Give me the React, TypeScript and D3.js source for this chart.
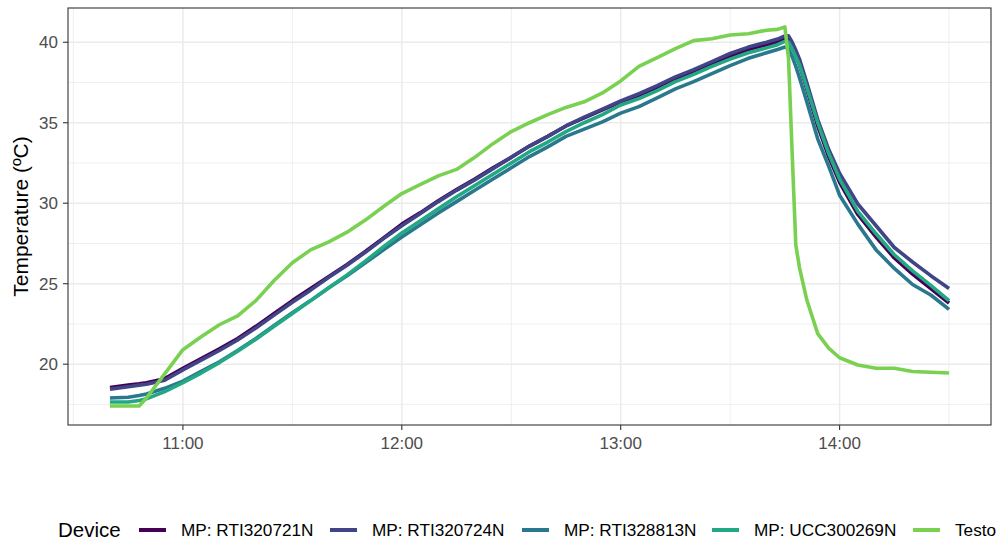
import React from "react";
import * as d3 from "d3";

// Sampling times (HH:MM), shared by every device
const times = [
  "10:40", "10:45", "10:48", "10:50", "10:55", "11:00", "11:05", "11:10", "11:15", "11:20",
  "11:25", "11:30", "11:35", "11:40", "11:45", "11:50", "11:55", "12:00", "12:05", "12:10",
  "12:15", "12:20", "12:25", "12:30", "12:35", "12:40", "12:45", "12:50", "12:55", "13:00",
  "13:05", "13:10", "13:15", "13:20", "13:25", "13:30", "13:35", "13:40", "13:43", "13:45",
  "13:46", "13:47", "13:48", "13:49", "13:51", "13:54", "13:57", "14:00", "14:05", "14:10",
  "14:15", "14:20", "14:25", "14:30",
];

// Temperature readings (ºC) per device
const rti320721n = [
  18.55, 18.7, 18.78, 18.85, 19.1, 19.75, 20.35, 20.95, 21.6, 22.35,
  23.15, 23.95, 24.7, 25.45, 26.2, 27.0, 27.85, 28.7, 29.4, 30.15,
  30.85, 31.5, 32.2, 32.85, 33.55, 34.15, 34.8, 35.3, 35.8, 36.3,
  36.7, 37.2, 37.75, 38.15, 38.65, 39.15, 39.55, 39.85, 40.05, 40.25,
  40.2, 39.8, 39.2, 38.6, 37.1, 34.8, 32.9, 31.3, 29.3, 27.9,
  26.6, 25.6, 24.7, 23.8,
];
const rti320724n = [
  18.45, 18.6, 18.7, 18.75, 19.0, 19.65, 20.25, 20.85, 21.5, 22.25,
  23.05, 23.85, 24.6, 25.4, 26.15, 26.95, 27.8, 28.6, 29.35, 30.1,
  30.8, 31.45, 32.15, 32.85, 33.55, 34.15, 34.8, 35.35, 35.85, 36.35,
  36.8, 37.3, 37.85, 38.3, 38.8, 39.3, 39.7, 40.0, 40.2, 40.4,
  40.4, 40.0, 39.5, 38.95, 37.5, 35.2, 33.35, 31.85, 29.95, 28.6,
  27.25, 26.35, 25.5, 24.7,
];
const rti328813n = [
  17.9, 17.95, 18.05, 18.15, 18.5, 18.95, 19.55, 20.15, 20.85, 21.6,
  22.4, 23.2, 23.95, 24.75, 25.5, 26.3, 27.1, 27.9, 28.65, 29.4,
  30.1, 30.8, 31.5, 32.2, 32.9, 33.5, 34.15, 34.6, 35.05, 35.6,
  36.0, 36.55, 37.1, 37.55, 38.05, 38.55, 39.0, 39.35, 39.55, 39.7,
  39.6, 39.1, 38.5, 37.8, 36.3, 34.0, 32.3, 30.5, 28.7, 27.1,
  25.95, 24.95, 24.3, 23.4,
];
const ucc300269n = [
  17.65, 17.65, 17.75, 17.85, 18.3, 18.85, 19.45, 20.1, 20.8, 21.55,
  22.35, 23.15, 23.95, 24.75, 25.55, 26.4, 27.3, 28.15, 28.9, 29.65,
  30.4, 31.1, 31.8, 32.5, 33.2, 33.8, 34.45, 35.0, 35.5, 36.1,
  36.5, 37.0, 37.55, 38.0, 38.5, 38.95, 39.35, 39.65, 39.85, 40.05,
  40.0, 39.6, 39.1, 38.6, 37.2, 35.0, 33.1, 31.5, 29.5, 28.1,
  26.8, 25.8, 24.9, 23.95,
];
const testo = [
  17.4, 17.4, 17.4, 17.9, 19.4, 20.9, 21.7, 22.45, 23.0, 23.95,
  25.2, 26.3, 27.1, 27.6, 28.2, 28.95, 29.8, 30.6, 31.15, 31.7,
  32.1, 32.85, 33.7, 34.45, 35.0, 35.5, 35.95, 36.3, 36.85, 37.6,
  38.5, 39.05, 39.6, 40.1, 40.22, 40.45, 40.53, 40.75, 40.8, 40.95,
  39.0, 33.1, 27.4, 26.0, 24.0, 21.9, 21.0, 20.4, 19.95, 19.75,
  19.75, 19.55, 19.5, 19.45,
];

const devices = ["MP: RTI320721N", "MP: RTI320724N", "MP: RTI328813N", "MP: UCC300269N", "Testo"];
const deviceColors = ["#440154", "#414487", "#2A788E", "#22A884", "#7AD151"];

const yMajorTicks = [20, 25, 30, 35, 40];
const yMinorTicks = [17.5, 22.5, 27.5, 32.5, 37.5];
const xMajorTicks = ["11:00", "12:00", "13:00", "14:00"];
const xMinorTicks = ["10:30", "11:30", "12:30", "13:30", "14:30"];

const FONT = "'Liberation Sans', Arial, Helvetica, sans-serif";

export default function App() {
  const W = 1000;
  const H = 542;
  const panel = { left: 68, right: 991, top: 8, bottom: 425 };

  const parse = d3.timeParse("%H:%M");
  const dates = times.map((t) => parse(t) as Date);
  const series = [rti320721n, rti320724n, rti328813n, ucc300269n, testo];

  // ggplot-style 5% expansion on both axes
  const [tMin, tMax] = d3.extent(dates) as [Date, Date];
  const tPad = (tMax.getTime() - tMin.getTime()) * 0.05;
  const x = d3
    .scaleTime()
    .domain([new Date(tMin.getTime() - tPad), new Date(tMax.getTime() + tPad)])
    .range([panel.left, panel.right]);

  const all = series.flat();
  const [vMin, vMax] = d3.extent(all) as [number, number];
  const vPad = (vMax - vMin) * 0.05;
  const y = d3.scaleLinear().domain([vMin - vPad, vMax + vPad]).range([panel.bottom, panel.top]);

  const line = d3
    .line<number>()
    .x((_, i) => x(dates[i]))
    .y((d) => y(d));

  const legendItems = [
    { keyX: 139, labelX: 181 },
    { keyX: 330, labelX: 372 },
    { keyX: 522, labelX: 564 },
    { keyX: 712, labelX: 754 },
    { keyX: 913, labelX: 955 },
  ];
  const legendKeyY = 530;
  const legendLabelBaseline = 536;
  const legendTitleBaseline = 537;

  return (
    <svg
      width={W}
      height={H}
      viewBox={`0 0 ${W} ${H}`}
      style={{ position: "absolute", left: 0, top: 0, background: "#fff" }}
      fontFamily={FONT}
    >
      <rect x={0} y={0} width={W} height={H} fill="#fff" />

      {/* minor grid */}
      {yMinorTicks.map((v) => (
        <line key={`ym${v}`} x1={panel.left} x2={panel.right} y1={y(v)} y2={y(v)} stroke="#EBEBEB" strokeWidth={0.8} />
      ))}
      {xMinorTicks.map((t) => (
        <line key={`xm${t}`} x1={x(parse(t) as Date)} x2={x(parse(t) as Date)} y1={panel.top} y2={panel.bottom} stroke="#EBEBEB" strokeWidth={0.8} />
      ))}
      {/* major grid */}
      {yMajorTicks.map((v) => (
        <line key={`yM${v}`} x1={panel.left} x2={panel.right} y1={y(v)} y2={y(v)} stroke="#EBEBEB" strokeWidth={1.5} />
      ))}
      {xMajorTicks.map((t) => (
        <line key={`xM${t}`} x1={x(parse(t) as Date)} x2={x(parse(t) as Date)} y1={panel.top} y2={panel.bottom} stroke="#EBEBEB" strokeWidth={1.5} />
      ))}

      {/* device traces */}
      {series.map((s, i) => (
        <path
          key={devices[i]}
          d={line(s) || ""}
          fill="none"
          stroke={deviceColors[i]}
          strokeWidth={3.6}
          strokeLinejoin="round"
          strokeLinecap="butt"
        />
      ))}

      {/* panel border */}
      <rect
        x={panel.left}
        y={panel.top}
        width={panel.right - panel.left}
        height={panel.bottom - panel.top}
        fill="none"
        stroke="#333333"
        strokeWidth={1.1}
      />

      {/* y axis */}
      {yMajorTicks.map((v) => (
        <g key={`yt${v}`}>
          <line x1={panel.left - 5} x2={panel.left} y1={y(v)} y2={y(v)} stroke="#333333" strokeWidth={1.1} />
          <text x={panel.left - 10} y={y(v)} dy="0.36em" textAnchor="end" fontSize={17} fill="#4D4D4D">
            {v}
          </text>
        </g>
      ))}
      {/* x axis */}
      {xMajorTicks.map((t) => {
        const px = x(parse(t) as Date);
        return (
          <g key={`xt${t}`}>
            <line x1={px} x2={px} y1={panel.bottom} y2={panel.bottom + 5} stroke="#333333" strokeWidth={1.1} />
            <text x={px} y={449} textAnchor="middle" fontSize={17} fill="#4D4D4D">
              {t}
            </text>
          </g>
        );
      })}

      <text
        transform={`translate(28, ${(panel.top + panel.bottom) / 2}) rotate(-90)`}
        textAnchor="middle"
        fontSize={21}
        fill="#000"
      >
        Temperature (ºC)
      </text>

      {/* legend */}
      <text x={58} y={legendTitleBaseline} fontSize={20.5} fill="#000">
        Device
      </text>
      {devices.map((name, i) => (
        <g key={`lg${name}`}>
          <line
            x1={legendItems[i].keyX}
            x2={legendItems[i].keyX + 27}
            y1={legendKeyY}
            y2={legendKeyY}
            stroke={deviceColors[i]}
            strokeWidth={4}
          />
          <text x={legendItems[i].labelX} y={legendLabelBaseline} fontSize={17.2} fill="#000">
            {name}
          </text>
        </g>
      ))}
    </svg>
  );
}
